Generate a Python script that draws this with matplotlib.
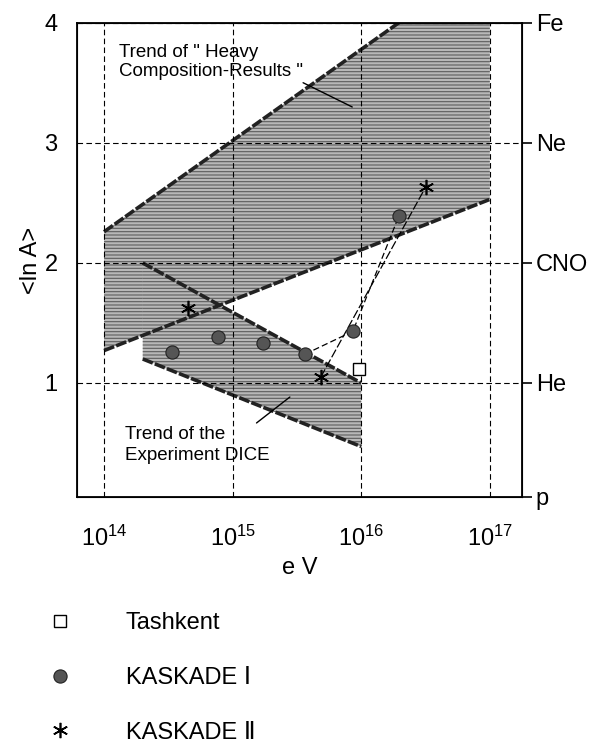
import numpy as np
import matplotlib.pyplot as plt
from matplotlib.ticker import NullLocator

plt.rcParams['font.family'] = ['Liberation Sans', 'DejaVu Sans']
plt.rcParams['mathtext.fontset'] = 'custom'
plt.rcParams['mathtext.rm'] = 'Liberation Sans'
plt.rcParams['mathtext.it'] = 'Liberation Sans:italic'
plt.rcParams['hatch.linewidth'] = 0.8
plt.rcParams['hatch.color'] = '#5e5e5e'

# trend bands (energy in eV, <ln A>)
heavy_e = [1e14, 1e17]
heavy_lo = [1.27, 2.53]
heavy_hi = [2.26, 4.54]

dice_e = [2.0e14, 1e16]
dice_lo = [1.20, 0.47]
dice_hi = [2.00, 1.00]

# measurements
kaskade1_e = [3.4e14, 7.7e14, 1.72e15, 3.65e15, 8.6e15, 1.96e16]
kaskade1_lna = [1.26, 1.38, 1.33, 1.24, 1.43, 2.39]

kaskade2_e = [4.5e14, 4.85e15, 3.16e16]
kaskade2_lna = [1.625, 1.05, 2.63]

tashkent_e = [9.55e15]
tashkent_lna = [1.12]

x_ticks = [1e14, 1e15, 1e16, 1e17]
y_ticks = [1, 2, 3, 4]
y_bottom = 0.05
elem_ticks = [y_bottom, 1, 2, 3, 4]
elem_labels = ['p', 'He', 'CNO', 'Ne', 'Fe']

fig = plt.figure(figsize=(5.98, 7.46), dpi=100)
ax = fig.add_axes([0.1288, 0.3338, 0.7441, 0.6354])

# shaded bands
ax.fill_between(heavy_e, heavy_lo, heavy_hi, facecolor='#b8b8b8', edgecolor='#5e5e5e',
                hatch='-----', linewidth=0, zorder=1)
ax.fill_between(dice_e, dice_lo, dice_hi, facecolor='#b8b8b8', edgecolor='#5e5e5e',
                hatch='-----', linewidth=0, zorder=1)
for e, v in [(heavy_e, heavy_hi), (heavy_e, heavy_lo), (dice_e, dice_hi), (dice_e, dice_lo)]:
    ax.plot(e, v, color='#222222', lw=2.6, dashes=(3, 0.6), zorder=2)

# connecting lines
ax.plot(kaskade1_e[3:], kaskade1_lna[3:], color='black', lw=0.9, dashes=(5, 2.5), zorder=3)
ax.plot(kaskade2_e[1:], kaskade2_lna[1:], color='black', lw=0.9, dashes=(7, 2), zorder=3)

sq, = ax.plot(tashkent_e, tashkent_lna, ls='none', marker='s', ms=9, mfc='white',
              mec='black', mew=1.0, zorder=5)
circ, = ax.plot(kaskade1_e, kaskade1_lna, ls='none', marker='o', ms=9.5, mfc='#555555',
                mec='#222222', mew=0.8, zorder=5)
star, = ax.plot(kaskade2_e, kaskade2_lna, ls='none', marker=(6, 2, 0), ms=11,
                color='black', mew=1.2, zorder=5)

ax.set_xscale('log')
ax.set_xlim(10 ** 13.79, 10 ** 17.25)
ax.set_ylim(y_bottom, 4.0)
ax.set_xticks(x_ticks)
ax.xaxis.set_minor_locator(NullLocator())
ax.set_yticks(y_ticks)
ax.tick_params(axis='x', length=0, pad=21, labelsize=17)
ax.tick_params(axis='y', length=0, pad=14, labelsize=17)
ax.grid(True, color='black', lw=0.8, linestyle=(0, (5, 3)))
ax.set_axisbelow(False)
for s in ax.spines.values():
    s.set_linewidth(1.3)

ax.set_xlabel('e V', fontsize=17, labelpad=4)
ax.set_ylabel('<ln A>', fontsize=17, labelpad=2)

ax2 = ax.twinx()
ax2.set_ylim(y_bottom, 4.0)
ax2.set_yticks(elem_ticks)
ax2.set_yticklabels(elem_labels)
ax2.tick_params(axis='y', direction='out', length=7, width=1.2, pad=3, labelsize=17)

# annotations
ax.annotate('Trend of " Heavy\nComposition-Results "', xy=(10 ** 15.93, 3.30),
            xytext=(10 ** 14.117, 3.675), ha='left', va='center', fontsize=13.5,
            linespacing=1.15,
            arrowprops=dict(arrowstyle='-', color='black', lw=1.0, relpos=(0.93, 0.1),
                            shrinkA=0, shrinkB=0))
ax.annotate('Trend of the\nExperiment DICE', xy=(10 ** 15.445, 0.883),
            xytext=(10 ** 14.163, 0.483), ha='left', va='center', fontsize=13.5,
            linespacing=1.35,
            arrowprops=dict(arrowstyle='-', color='black', lw=1.0, relpos=(0.83, 0.84),
                            shrinkA=0, shrinkB=0))

fig.legend(handles=[sq, circ, star], labels=['Tashkent', 'KASKADE Ⅰ', 'KASKADE Ⅱ'],
           loc='upper left', bbox_to_anchor=(0.080, 0.179), frameon=False, fontsize=17,
           handlelength=1.0, handletextpad=2.3, labelspacing=1.38, borderpad=0,
           borderaxespad=0)

fig.savefig('out.png', dpi=100)
